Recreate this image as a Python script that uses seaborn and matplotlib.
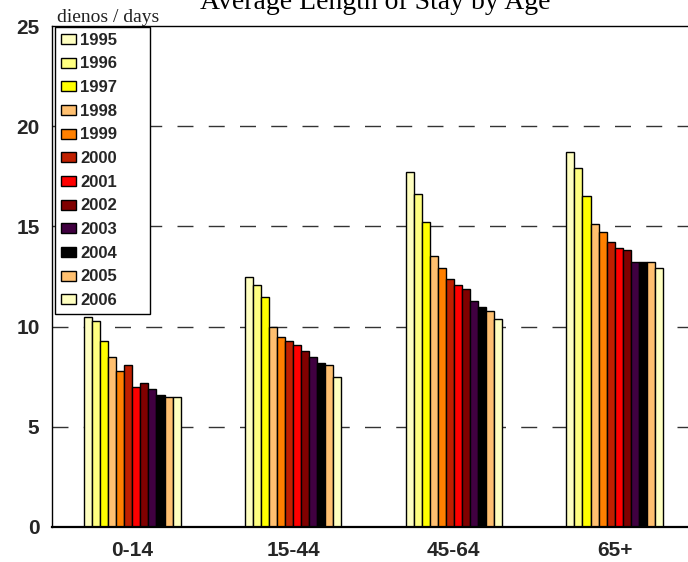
import matplotlib
matplotlib.use("Agg")
import matplotlib.pyplot as plt
import seaborn as sns
import pandas as pd

# Age groups and years
age_groups = ["0-14", "15-44", "45-64", "65+"]
years = ["1995", "1996", "1997", "1998", "1999", "2000",
         "2001", "2002", "2003", "2004", "2005", "2006"]

# Average length of stay (days), one list per age group, ordered by year
stay_0_14 = [10.5, 10.3, 9.3, 8.5, 7.8, 8.1, 7.0, 7.2, 6.9, 6.6, 6.5, 6.5]
stay_15_44 = [12.5, 12.1, 11.5, 10.0, 9.5, 9.3, 9.1, 8.8, 8.5, 8.2, 8.1, 7.5]
stay_45_64 = [17.7, 16.6, 15.2, 13.5, 12.9, 12.4, 12.1, 11.9, 11.3, 11.0, 10.8, 10.4]
stay_65_plus = [18.7, 17.9, 16.5, 15.1, 14.7, 14.2, 13.9, 13.8, 13.2, 13.2, 13.2, 12.9]

y_ticks = [0, 5, 10, 15, 20, 25]

year_colors = ["#FFFFC0", "#FFFF80", "#FFFF00", "#FFC070", "#FF8000", "#C02000",
               "#FF0000", "#800000", "#400040", "#000000", "#FFC070", "#FFFFC0"]

rows = []
for group, values in zip(age_groups, [stay_0_14, stay_15_44, stay_45_64, stay_65_plus]):
    for yr, v in zip(years, values):
        rows.append({"age": group, "year": yr, "days": v})
df = pd.DataFrame(rows)

sns.set_theme(style="white")
plt.rcParams["font.family"] = ["Liberation Sans", "DejaVu Sans"]

W, H = 688, 562
fig = plt.figure(figsize=(W / 100, H / 100), dpi=100)
ax = fig.add_axes([52 / W, (H - 527) / H, 643 / W, (527 - 26) / H])

sns.barplot(data=df, x="age", y="days", hue="year", order=age_groups,
            hue_order=years, palette=year_colors, width=0.6, gap=0,
            edgecolor="black", linewidth=1.0, saturation=1, ax=ax)

ax.set_xlim(-0.5, 3.5)
ax.set_ylim(0, 25)
ax.set_yticks(y_ticks)
ax.set_yticklabels([str(t) for t in y_ticks], fontsize=15, fontweight="bold")
ax.tick_params(axis="y", direction="inout", length=6, width=1, color="black", pad=6)
ax.tick_params(axis="x", length=0, pad=10)
for lbl in ax.get_xticklabels():
    lbl.set_fontsize(15)
    lbl.set_fontweight("bold")
ax.set_xlabel("")
ax.set_ylabel("")

# dashed horizontal reference lines
for t in y_ticks[1:-1]:
    ax.axhline(t, color="#333333", linewidth=1, linestyle=(0, (11.5, 11)), zorder=0)

for side in ["left", "top", "right"]:
    ax.spines[side].set_color("black")
    ax.spines[side].set_linewidth(1)
ax.spines["bottom"].set_color("black")
ax.spines["bottom"].set_linewidth(1.6)

handles, labels = ax.get_legend_handles_labels()
ax.legend(handles, labels, loc="upper left",
          bbox_to_anchor=(55 / W, (H - 311) / H, 95 / W, 284 / H),
          bbox_transform=fig.transFigure, mode="expand",
          prop={"weight": "bold", "size": 12}, frameon=True, fancybox=False,
          edgecolor="black", framealpha=1, borderaxespad=0,
          handlelength=0.9, handleheight=0.55, handletextpad=0.25,
          labelspacing=0.52, borderpad=0.35)
ax.get_legend().get_frame().set_linewidth(1)

fig.text(57 / W, (H - 22) / H, "dienos / days", family=["Liberation Serif"],
         fontsize=14, ha="left", va="baseline", color="#222222")
fig.text(375 / W, (H - 9) / H, "Average Length of Stay by Age",
         family=["Liberation Serif"], fontsize=20, ha="center", va="baseline",
         color="black")

fig.savefig("out.png", dpi=100)
